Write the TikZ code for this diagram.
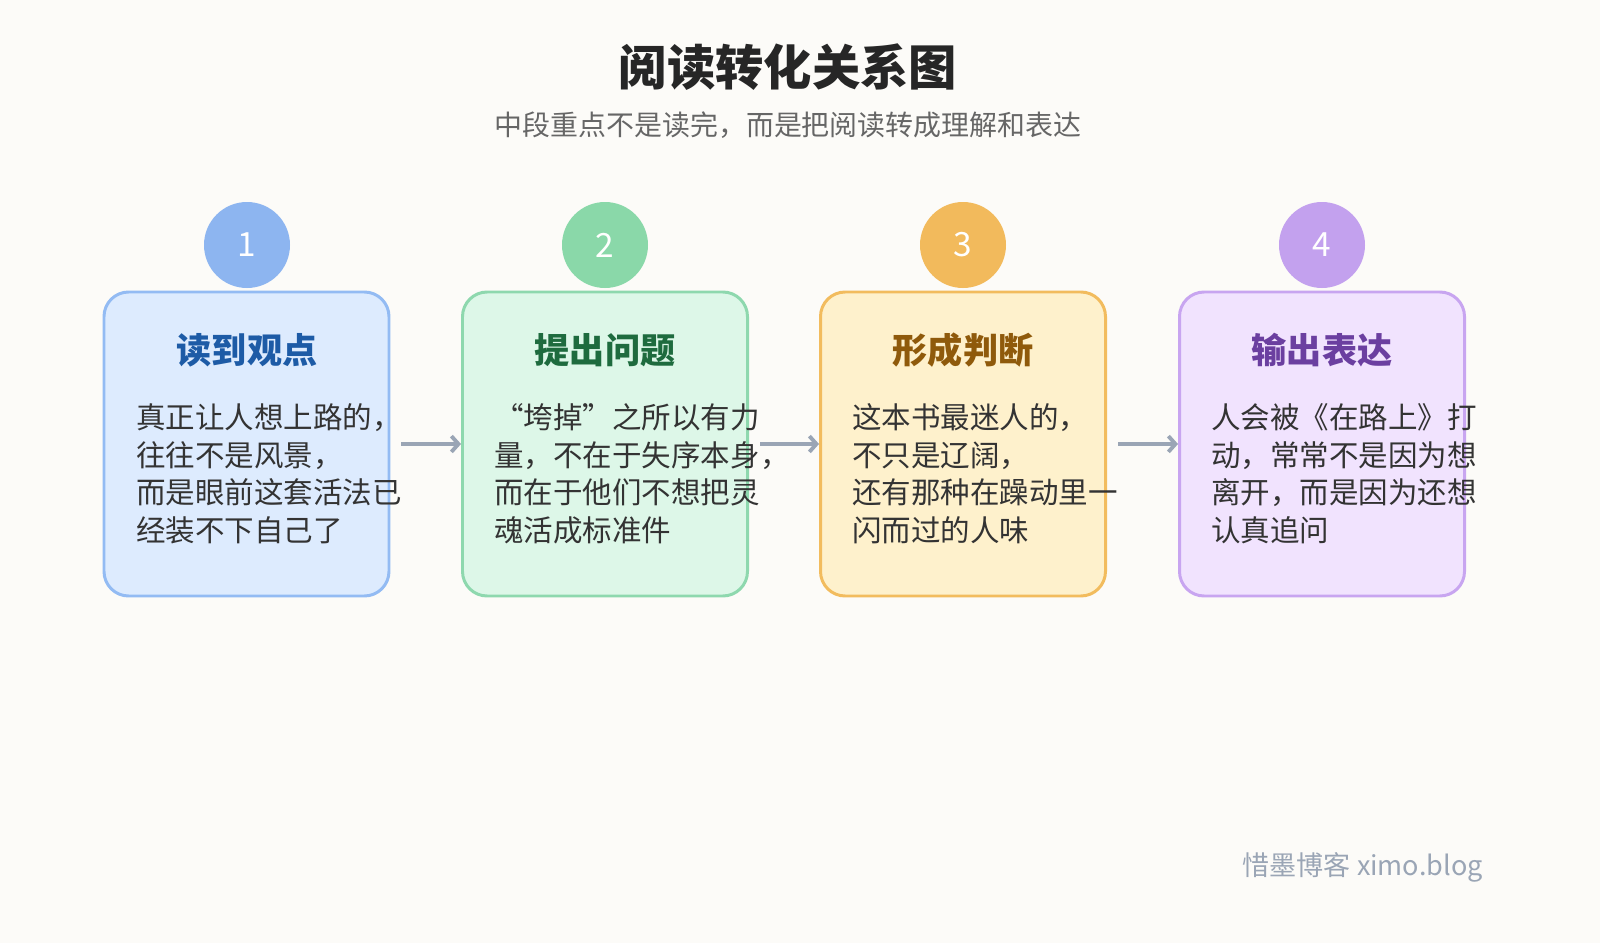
\documentclass[tikz,border=0pt]{standalone}
\usepackage{fontspec}
\setmainfont{Noto Sans CJK SC}
\usetikzlibrary{arrows.meta,positioning}
\definecolor{bgc}{HTML}{FCFBF8}
\definecolor{fillA}{HTML}{DDEBFE}\definecolor{lineA}{HTML}{93BBF3}\definecolor{dotA}{HTML}{8DB5F0}\definecolor{headA}{HTML}{1D5BA6}
\definecolor{fillB}{HTML}{DDF7E8}\definecolor{lineB}{HTML}{8ED8AE}\definecolor{dotB}{HTML}{8AD8A9}\definecolor{headB}{HTML}{1E6B3E}
\definecolor{fillC}{HTML}{FEF1CC}\definecolor{lineC}{HTML}{F2BC5E}\definecolor{dotC}{HTML}{F2BA5C}\definecolor{headC}{HTML}{8F5A0B}
\definecolor{fillD}{HTML}{F1E3FE}\definecolor{lineD}{HTML}{C8A5F0}\definecolor{dotD}{HTML}{C3A1EE}\definecolor{headD}{HTML}{6B3FA0}
\definecolor{linkc}{HTML}{9AA5B5}
\newlength{\unitpx}\setlength{\unitpx}{0.02cm}
\tikzset{
  stagebox/.style={draw=line#1, fill=fill#1, line width=1.7pt, rounded corners=14pt,
    minimum width=285\unitpx, minimum height=304\unitpx},
  stagedot/.style={circle, fill=dot#1, minimum size=86\unitpx, inner sep=0pt,
    text=white, font=\fontsize{19}{19}\selectfont},
  stagehead/.style={font=\bfseries\fontsize{20}{20}\selectfont, text=head#1},
  stagetext/.style={anchor=north west, align=left, inner sep=0pt, text=black!80,
    font=\fontsize{16.8}{21.5}\selectfont},
  link/.style={draw=linkc, line width=2.2pt, -{Straight Barb[length=4pt,width=9pt]}, shorten <=11\unitpx},
}
\begin{document}
\begin{tikzpicture}[x=0.02cm,y=-0.02cm]
  \fill[bgc] (0,0) rectangle (1600,943);
  \useasboundingbox (0,0) rectangle (1600,943);
  \node (title) at (788,67) {\bfseries\fontsize{27.5}{27.5}\selectfont\color{black!85}阅读转化关系图};
  \node (subtitle) at (788,125) {\fontsize{15.9}{15.9}\selectfont\color{black!60}中段重点不是读完，而是把阅读转成理解和表达};
  % stage boxes
  \node[stagebox=A] (b1) at (246.5,444) {};
  \node[stagebox=B] (b2) at (605,444) {};
  \node[stagebox=C] (b3) at (963,444) {};
  \node[stagebox=D] (b4) at (1322,444) {};
  % number dots
  \node[stagedot=A] (n1) at (247,245) {1};
  \node[stagedot=B] (n2) at (605,245) {2};
  \node[stagedot=C] (n3) at (963,245) {3};
  \node[stagedot=D] (n4) at (1322,245) {4};
  % headings
  \node[stagehead=A] (h1) at (247,350) {读到观点};
  \node[stagehead=B] (h2) at (605,350) {提出问题};
  \node[stagehead=C] (h3) at (963,350) {形成判断};
  \node[stagehead=D] (h4) at (1322,350) {输出表达};
  % body texts
  \node[stagetext] (t1) at (136,403) {真正让人想上路的，\\往往不是风景，\\而是眼前这套活法已\\经装不下自己了};
  \node[stagetext] (t2) at (494,403) {“垮掉”之所以有力\\量，不在于失序本身，\\而在于他们不想把灵\\魂活成标准件};
  \node[stagetext] (t3) at (852,403) {这本书最迷人的，\\不只是辽阔，\\还有那种在躁动里一\\闪而过的人味};
  \node[stagetext] (t4) at (1211,403) {人会被《在路上》打\\动，常常不是因为想\\离开，而是因为还想\\认真追问};
  % links
  \draw[link] (b1.east) -- (b2.west);
  \draw[link] (b2.east) -- (b3.west);
  \draw[link] (b3.east) -- (b4.west);
  \node[anchor=east, inner sep=0pt] (mark) at (1483,867) {\fontsize{15.4}{15.4}\selectfont\color{linkc}惜墨博客 ximo.blog};
\end{tikzpicture}
\end{document}
